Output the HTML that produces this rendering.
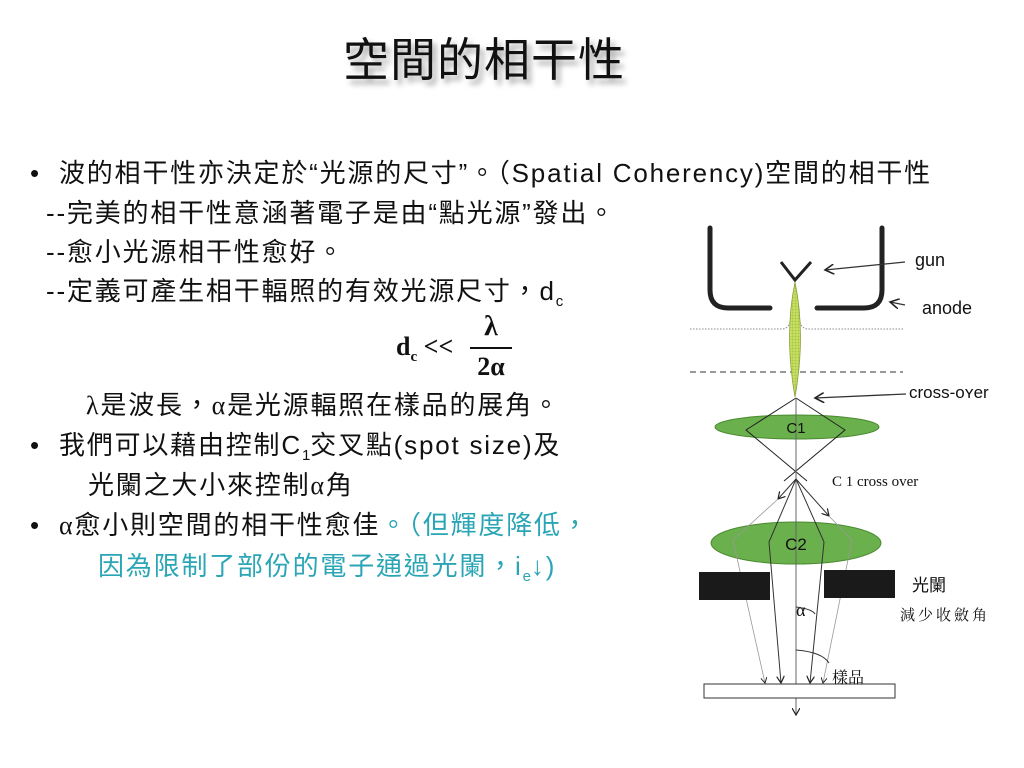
<!DOCTYPE html>
<html><head><meta charset="utf-8">
<style>
body{margin:0;background:#fff;}
#p{position:relative;width:1024px;height:768px;overflow:hidden;background:#fff;font-family:"Liberation Sans","Noto Sans CJK TC",sans-serif;color:#111;}
.t{position:absolute;white-space:nowrap;font-size:26px;line-height:30px;letter-spacing:1.8px;}
.ttl{position:absolute;left:343px;top:32px;font-size:46px;line-height:56px;letter-spacing:1px;text-shadow:4px 5px 6px rgba(0,0,0,0.35);white-space:nowrap;}
.cy{color:#2aa5b5;}
sub{font-size:15px;vertical-align:-6px;line-height:0;letter-spacing:0;}
.g{font-family:"Liberation Serif",serif;}
</style></head><body><div id="p">
<div class="ttl">空間的相干性</div>
<div class="t" style="left:30px;top:158px;">•&nbsp;&nbsp;波的相干性亦決定於“光源的尺寸”。（Spatial Coherency)空間的相干性</div>
<div class="t" style="left:46px;top:198px;">--完美的相干性意涵著電子是由“點光源”發出。</div>
<div class="t" style="left:46px;top:237px;">--愈小光源相干性愈好。</div>
<div class="t" style="left:46px;top:276px;">--定義可產生相干輻照的有效光源尺寸，d<sub>c</sub></div>
<div class="t g" style="left:396px;top:332px;font-weight:bold;font-size:26px;letter-spacing:0;">d<sub>c</sub> &lt;&lt;</div>
<div class="t g" style="left:470px;top:312px;font-weight:bold;font-size:28px;width:42px;text-align:center;letter-spacing:0;">λ</div>
<div style="position:absolute;left:470px;top:347px;width:42px;height:2px;background:#111;"></div>
<div class="t g" style="left:470px;top:352px;font-weight:bold;font-size:26px;width:42px;text-align:center;letter-spacing:0;">2α</div>
<div class="t" style="left:86px;top:390px;"><span class="g">λ</span>是波長，<span class="g">α</span>是光源輻照在樣品的展角。</div>
<div class="t" style="left:30px;top:430px;">•&nbsp;&nbsp;我們可以藉由控制C<sub>1</sub>交叉點(spot size)及</div>
<div class="t" style="left:88px;top:470px;">光闌之大小來控制<span class="g">α</span>角</div>
<div class="t" style="left:30px;top:510px;">•&nbsp;&nbsp;<span class="g">α</span>愈小則空間的相干性愈佳<span class="cy">。（但輝度降低，</span></div>
<div class="t cy" style="left:98px;top:551px;">因為限制了部份的電子通過光闌，i<sub>e</sub>↓)</div>

<svg style="position:absolute;left:0;top:0" width="1024" height="768">
<defs><marker id="a" markerWidth="8" markerHeight="8" refX="7" refY="4" orient="auto"><path d="M0,0 L7,4 L0,8" fill="none" stroke="#222" stroke-width="1.2"/></marker>
<pattern id="gr" width="3" height="3" patternUnits="userSpaceOnUse"><rect width="3" height="3" fill="#c8e060"/><path d="M0,0H3M0,0V3" stroke="#7a9a30" stroke-width="0.4"/></pattern></defs>
<g stroke="#222" stroke-width="5" fill="none" stroke-linecap="round">
<path d="M710,228 V290 Q710,308 728,308 H770"/>
<path d="M882,228 V290 Q882,308 864,308 H817"/>
</g>
<path d="M781,262 L795,280 L811,262" stroke="#222" stroke-width="3" fill="none"/>
<path d="M690,329 H782 Q788,329 790,322 M800,322 Q802,329 808,329 H903" stroke="#888" stroke-width="1" stroke-dasharray="1.5,1.5" fill="none"/>
<line x1="690" y1="372" x2="903" y2="372" stroke="#333" stroke-width="1" stroke-dasharray="6,4"/>
<path d="M795,282 Q806,335 795,397 Q784,335 795,282Z" fill="url(#gr)" stroke="#8aa040" stroke-width="0.8"/>
<g stroke="#333" stroke-width="1.3" marker-end="url(#a)">
<line x1="905" y1="262" x2="825" y2="270"/>
<line x1="905" y1="305" x2="890" y2="302"/>
<line x1="906" y1="394" x2="815" y2="398"/>
</g>
<ellipse cx="797" cy="427" rx="82" ry="12" fill="#6ab04c" stroke="#4a8a30"/>
<ellipse cx="796" cy="543" rx="85" ry="21" fill="#6ab04c" stroke="#4a8a30"/>
<path d="M796,398 L746,430 L807,481 M796,398 L845,430 L784,481" stroke="#222" fill="none" stroke-width="1"/>
<line x1="796" y1="398" x2="796" y2="715" stroke="#666" stroke-width="1" marker-end="url(#a)"/>
<g stroke="#333" stroke-width="1" fill="none">
<line x1="796" y1="479" x2="778" y2="499" marker-end="url(#a)"/>
<line x1="796" y1="479" x2="829" y2="516" marker-end="url(#a)"/>
<path d="M796,479 L769,542 L781,683" marker-end="url(#a)"/>
<path d="M796,479 L824,542 L810,683" marker-end="url(#a)"/>
</g>
<g stroke="#999" stroke-width="0.8" fill="none">
<path d="M778,499 L733,540 L765,683" marker-end="url(#a)"/>
<path d="M829,516 L852,540 L823,683" marker-end="url(#a)"/>
</g>
<rect x="699" y="572" width="71" height="28" fill="#1a1a1a"/>
<rect x="824" y="570" width="71" height="28" fill="#1a1a1a"/>
<rect x="704" y="684" width="191" height="14" fill="#fff" stroke="#333"/>
<path d="M796,607 Q812,609 815,614" stroke="#333" fill="none"/>
<path d="M796,650 Q822,652 829,663" stroke="#333" fill="none"/>
<g font-family="Liberation Sans,sans-serif" fill="#111">
<text x="796" y="433" font-size="15" text-anchor="middle">C1</text>
<text x="796" y="550" font-size="17" text-anchor="middle">C2</text>
<text x="915" y="266" font-size="18">gun</text>
<text x="922" y="314" font-size="18">anode</text>
<text x="909" y="398" font-size="17">cross-oʏer</text>
<text x="832" y="486" font-size="15" font-family="Liberation Serif,serif">C 1 cross over</text>
<text x="796" y="616" font-size="18" font-family="Liberation Serif,serif">α</text>
<text x="912" y="591" font-size="17" font-family="Liberation Sans,Noto Sans CJK TC,sans-serif">光闌</text>
<text x="900" y="620" font-size="15" letter-spacing="3" font-family="Noto Serif CJK SC,serif">減少收斂角</text>
<text x="832" y="683" font-size="16" font-family="Noto Serif CJK SC,serif">樣品</text>
</g>
</svg>
</div></body></html>
